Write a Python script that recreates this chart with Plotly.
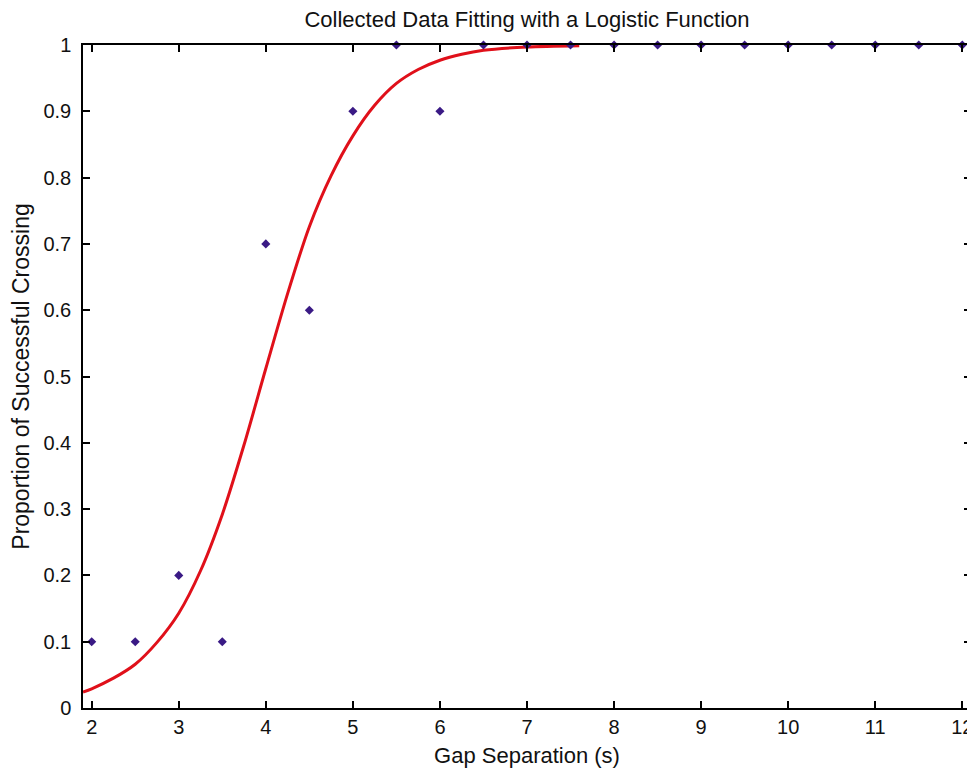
import plotly.graph_objects as go

# measured data (gap in seconds, proportion of successful crossings)
gap_s = [2, 2.5, 3, 3.5, 4, 4.5, 5, 5.5, 6, 6.5, 7, 7.5, 8, 8.5, 9, 9.5, 10, 10.5, 11, 11.5, 12]
proportion = [0.1, 0.1, 0.2, 0.1, 0.7, 0.6, 0.9, 1, 0.9, 1, 1, 1, 1, 1, 1, 1, 1, 1, 1, 1, 1]

# fitted logistic curve
fit_x = [1.9, 2.0, 2.25, 2.5, 2.75, 3.0, 3.25, 3.5, 3.75, 4.0, 4.25, 4.5, 4.75, 5.0,
         5.25, 5.5, 5.75, 6.0, 6.25, 6.5, 7.0, 7.6]
fit_y = [0.024, 0.029, 0.045, 0.066, 0.099, 0.143, 0.207, 0.292, 0.397, 0.512, 0.625,
         0.726, 0.803, 0.863, 0.909, 0.942, 0.963, 0.977, 0.986, 0.992, 0.997, 0.999]

x_ticks = [2, 3, 4, 5, 6, 7, 8, 9, 10, 11, 12]
y_ticks = [0, 0.1, 0.2, 0.3, 0.4, 0.5, 0.6, 0.7, 0.8, 0.9, 1]
y_tick_text = ['0', '0.1', '0.2', '0.3', '0.4', '0.5', '0.6', '0.7', '0.8', '0.9', '1']

FONT = 'Liberation Sans, Arial, sans-serif'

# page body has an 8px margin, so the figure is a bit smaller than the window
W, H = 967, 765

fig = go.Figure()
fig.add_trace(go.Scatter(x=fit_x, y=fit_y, mode='lines',
                         line=dict(color='#e0101a', width=3, shape='spline', smoothing=0.8),
                         showlegend=False))
fig.add_trace(go.Scatter(x=gap_s, y=proportion, mode='markers',
                         marker=dict(symbol='diamond', size=7, color='#3a1a85'),
                         showlegend=False, cliponaxis=False))

axis_common = dict(showline=True, linecolor='black', linewidth=1.5, mirror='ticks',
                   ticks='inside', ticklen=7, tickwidth=1.5, tickcolor='black',
                   showgrid=False, zeroline=False, automargin=False,
                   tickfont=dict(family=FONT, size=20, color='#111'))

fig.update_layout(
    width=W, height=H,
    margin=dict(l=75, r=4, t=37, b=65),
    paper_bgcolor='white', plot_bgcolor='white',
    title=dict(text='Collected Data Fitting with a Logistic Function', x=0.5, xref='paper', xanchor='center',
               y=1 - 11 / H, yanchor='middle', yref='container', automargin=False,
               font=dict(family=FONT, size=22, color='#111')),
    xaxis=dict(range=[1.9, 12.1], tickvals=x_ticks, ticklabelstandoff=0,
               title=dict(text='Gap Separation (s)', standoff=11, font=dict(family=FONT, size=22, color='#111')),
               **axis_common),
    yaxis=dict(range=[0, 1], tickvals=y_ticks, ticktext=y_tick_text, ticklabelstandoff=6,
               title=dict(text='Proportion of Successful Crossing', standoff=8,
                          font=dict(family=FONT, size=23, color='#111')),
               **axis_common),
)

fig.write_html("out.html")
